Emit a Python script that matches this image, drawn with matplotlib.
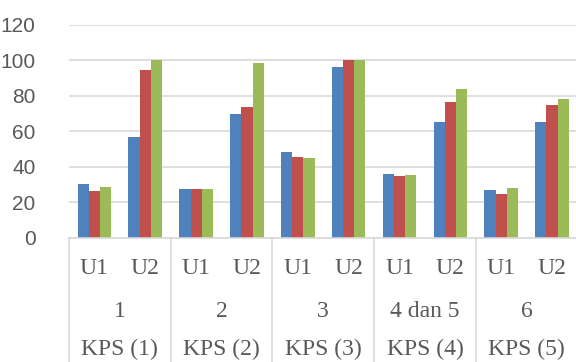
import matplotlib
matplotlib.use("Agg")
import matplotlib.pyplot as plt
from matplotlib.lines import Line2D
import numpy as np

# Data
sessions = ["U1", "U2"]
meetings = ["1", "2", "3", "4 dan 5", "6"]
kps_labels = ["KPS (1)", "KPS (2)", "KPS (3)", "KPS (4)", "KPS (5)"]
series_blue = [30.2, 56.7, 27.3, 69.5, 48.2, 95.9, 36.0, 65.2, 26.8, 65.0]
series_red = [26.2, 94.6, 27.3, 73.4, 45.6, 100.0, 34.5, 76.7, 24.5, 74.8]
series_green = [28.8, 100.0, 27.3, 98.5, 45.0, 100.0, 35.3, 83.6, 28.1, 78.4]
y_ticks = [0, 20, 40, 60, 80, 100, 120]

colors = ["#4F81BD", "#C0504D", "#9BBB59"]
grid_color = "#D9D9D9"
text_color = "#595959"

W, H = 576, 362
fig = plt.figure(figsize=(W / 100, H / 100), dpi=100)
left_px, right_px = 69, 577.5
top_px, bottom_px = 24.7, 237.7
ax = fig.add_axes([left_px / W, 1 - bottom_px / H,
                   (right_px - left_px) / W, (bottom_px - top_px) / H])

n = len(series_blue)
x = np.arange(n)
bw = 0.22
for i, (vals, c) in enumerate(zip([series_blue, series_red, series_green], colors)):
    ax.bar(x + (i - 1) * bw, vals, width=bw, color=c, edgecolor="none", zorder=3)

ax.set_xlim(-0.5, n - 0.5)
ax.set_ylim(0, 120)
ax.set_yticks(y_ticks)
ax.set_yticklabels([str(t) for t in y_ticks], fontfamily="Liberation Sans",
                   fontsize=15, color=text_color)
ax.tick_params(axis="y", length=0, pad=24)
ax.set_xticks([])
ax.yaxis.grid(True, color=grid_color, linewidth=1.2, zorder=0)
for s in ["left", "right", "top"]:
    ax.spines[s].set_visible(False)
ax.spines["bottom"].set_color(grid_color)
ax.spines["bottom"].set_linewidth(1.2)
ax.spines["bottom"].set_zorder(4)

trans = ax.get_xaxis_transform()
serif = dict(fontfamily="Liberation Serif", fontsize=17, color=text_color,
             ha="center", va="baseline", transform=trans, clip_on=False)

# Session labels
for i in range(n):
    ax.text(x[i], -0.1704, sessions[i % 2], **serif)

# Meeting and KPS labels, one per pair
for g in range(len(meetings)):
    cx = 2 * g + 0.5
    ax.text(cx, -0.3737, meetings[g], **serif)
    ax.text(cx, -0.552, kps_labels[g], **serif)

# Group separators below the axis
for g in range(len(meetings) + 1):
    xb = 2 * g - 0.5
    ax.add_line(Line2D([xb, xb], [0, -0.7], transform=trans, color=grid_color,
                       linewidth=1.2, clip_on=False))

fig.savefig("out.png", dpi=100)
